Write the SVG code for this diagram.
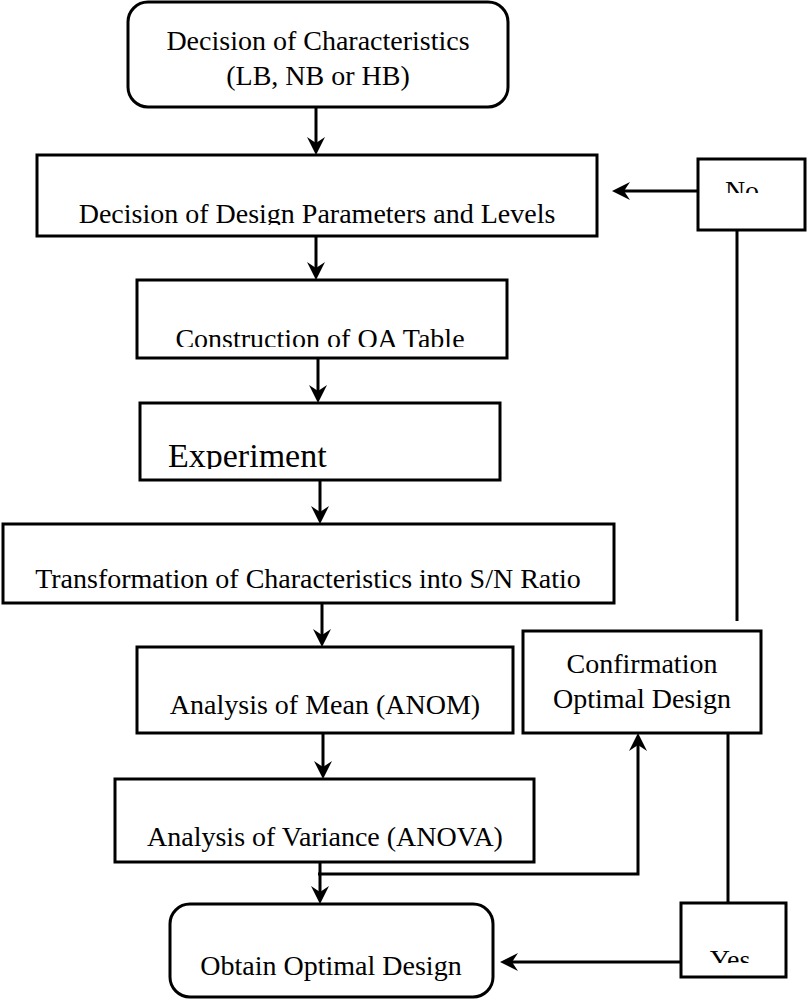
<svg xmlns="http://www.w3.org/2000/svg" width="808" height="1000" viewBox="0 0 808 1000">
<style>
.box{fill:#fff;stroke:#000;stroke-width:3}
.t{font-family:"Liberation Serif","Times New Roman",serif;font-size:28px;fill:#000;text-anchor:middle}
.line{fill:none;stroke:#000;stroke-width:3}
</style>
<defs>
<marker id="ah" viewBox="0 0 18 18" refX="10" refY="9" markerWidth="18" markerHeight="18" markerUnits="userSpaceOnUse" orient="auto">
<path d="M0,0 L18,9 L0,18 L6,9 Z" fill="#000"/>
</marker>
<clipPath id="c2"><rect x="37" y="155" width="560" height="70"/></clipPath>
<clipPath id="c3"><rect x="137" y="280" width="370" height="67"/></clipPath>
<clipPath id="c4"><rect x="140" y="403" width="360" height="66"/></clipPath>
<clipPath id="c5"><rect x="3" y="524" width="611" height="66"/></clipPath>
<clipPath id="cno"><rect x="698" y="159" width="107" height="34"/></clipPath>
<clipPath id="cyes"><rect x="681" y="903" width="105" height="60"/></clipPath>
</defs>
<rect width="808" height="1000" fill="#fff"/>
<g id="connectors">
<path class="line" d="M316 107 V147" marker-end="url(#ah)"/>
<path class="line" d="M316 236 V272" marker-end="url(#ah)"/>
<path class="line" d="M318 358 V395" marker-end="url(#ah)"/>
<path class="line" d="M320 480 V516" marker-end="url(#ah)"/>
<path class="line" d="M322 603 V639" marker-end="url(#ah)"/>
<path class="line" d="M323 733 V771" marker-end="url(#ah)"/>
<path class="line" d="M320 862 V896" marker-end="url(#ah)"/>
<path class="line" d="M318 874 H638 V741" marker-end="url(#ah)"/>
<path class="line" d="M698 191 H620" marker-end="url(#ah)"/>
<path class="line" d="M737 230 V621"/>
<path class="line" d="M728 726 V903"/>
<path class="line" d="M681 962 H508" marker-end="url(#ah)"/>
</g>
<g id="n1">
<rect class="box" x="128" y="2" width="380" height="105" rx="20"/>
<text class="t" x="318" y="50">Decision of Characteristics</text>
<text class="t" x="318" y="85">(LB, NB or HB)</text>
</g>
<g id="n2">
<rect class="box" x="37" y="155" width="560" height="81"/>
<text class="t" x="317" y="223" clip-path="url(#c2)">Decision of Design Parameters and Levels</text>
</g>
<g id="n3">
<rect class="box" x="137" y="280" width="370" height="78"/>
<text class="t" x="320" y="348" clip-path="url(#c3)">Construction of OA Table</text>
</g>
<g id="n4">
<rect class="box" x="140" y="403" width="360" height="77"/>
<text class="t" x="168" y="467" style="font-size:34px;text-anchor:start" clip-path="url(#c4)">Experiment</text>
</g>
<g id="n5">
<rect class="box" x="3" y="524" width="611" height="79"/>
<text class="t" x="308" y="588" clip-path="url(#c5)">Transformation of Characteristics into S/N Ratio</text>
</g>
<g id="n6">
<rect class="box" x="137" y="647" width="376" height="86"/>
<text class="t" x="325" y="714">Analysis of Mean (ANOM)</text>
</g>
<g id="n7">
<rect class="box" x="115" y="779" width="419" height="83"/>
<text class="t" x="325" y="846">Analysis of Variance (ANOVA)</text>
</g>
<g id="n8">
<rect class="box" x="170" y="904" width="323" height="93" rx="20"/>
<text class="t" x="331" y="975">Obtain Optimal Design</text>
</g>
<g id="n9">
<rect class="box" x="523" y="631" width="238" height="102"/>
<text class="t" x="642" y="673">Confirmation</text>
<text class="t" x="642" y="708">Optimal Design</text>
</g>
<g id="n10">
<rect class="box" x="698" y="159" width="107" height="71"/>
<text class="t" x="742" y="200" clip-path="url(#cno)">No</text>
</g>
<g id="n11">
<rect class="box" x="681" y="903" width="105" height="74"/>
<text class="t" x="730" y="969" clip-path="url(#cyes)">Yes</text>
</g>
</svg>
